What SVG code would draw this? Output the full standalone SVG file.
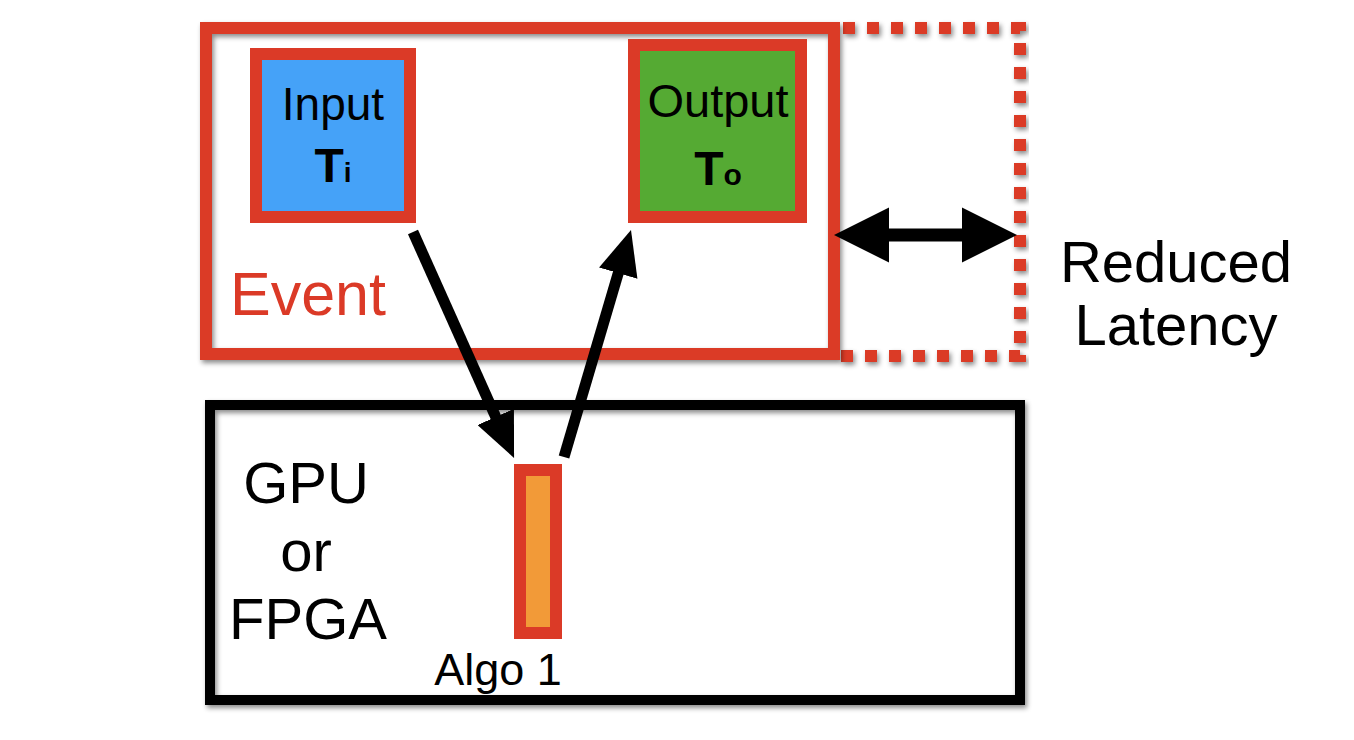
<svg xmlns="http://www.w3.org/2000/svg" width="1354" height="740" viewBox="0 0 1354 740">
<style>
.t{font-family:"Liberation Sans",Arial,sans-serif;fill:#000}
.b{font-weight:bold}
.red{stroke:#DB3A27}
</style>
<defs>
<filter id="sh" x="-5%" y="-5%" width="110%" height="115%">
<feDropShadow dx="2" dy="3" stdDeviation="2.5" flood-color="#000" flood-opacity="0.45"/>
</filter>
<marker id="ah" markerUnits="userSpaceOnUse" markerWidth="46" markerHeight="40" refX="15" refY="20" orient="auto" viewBox="0 0 46 40">
<path d="M0,0 L45,20 L0,40 z" fill="#000"/>
</marker>
</defs>
<rect width="1354" height="740" fill="#fff"/>
<g id="event">
<path d="M840,28 H1020 V356 H840" fill="none" stroke="#DB3A27" stroke-width="12" stroke-dasharray="12 12" stroke-dashoffset="-3" filter="url(#sh)"/>
<rect x="206" y="28" width="628" height="326" fill="none" stroke="#DB3A27" stroke-width="12" filter="url(#sh)"/>
<text class="t" x="230" y="315" font-size="61" style="fill:#DB3A27">Event</text>
</g>
<g id="input">
<rect x="256" y="54" width="154" height="163" fill="#45A2F8" stroke="#DB3A27" stroke-width="12"/>
<text class="t" x="333" y="120" font-size="46" text-anchor="middle">Input</text>
<text class="t b" x="333" y="182" font-size="48" text-anchor="middle">T<tspan font-size="28">i</tspan></text>
</g>
<g id="output">
<rect x="634" y="45" width="167" height="172" fill="#55AA33" stroke="#DB3A27" stroke-width="12"/>
<text class="t" x="718" y="117" font-size="47" text-anchor="middle">Output</text>
<text class="t b" x="718" y="185" font-size="48" text-anchor="middle">T<tspan font-size="30">o</tspan></text>
</g>
<g id="latency">
<text class="t" x="1176" y="282" font-size="58" text-anchor="middle">Reduced</text>
<text class="t" x="1176" y="345" font-size="58" text-anchor="middle">Latency</text>
</g>
<g id="gpu">
<rect x="210" y="405" width="810" height="295" fill="none" stroke="#000" stroke-width="10" filter="url(#sh)"/>
<text class="t" x="306" y="503" font-size="58" text-anchor="middle">GPU</text>
<text class="t" x="306" y="571" font-size="58" text-anchor="middle">or</text>
<text class="t" x="308" y="639" font-size="58" text-anchor="middle">FPGA</text>
</g>
<g id="algo">
<rect x="520" y="470" width="36" height="163" fill="#F29A38" stroke="#DB3A27" stroke-width="12"/>
<text class="t" x="498" y="685" font-size="45" text-anchor="middle">Algo 1</text>
</g>
<g id="connectors">
<line x1="413" y1="232" x2="501.8" y2="430.6" stroke="#000" stroke-width="11" marker-end="url(#ah)"/>
<line x1="564" y1="457" x2="622.5" y2="258.8" stroke="#000" stroke-width="11" marker-end="url(#ah)"/>
<polygon points="834,235 889,207.5 889,228.5 962,228.5 962,207.5 1017,235 962,262.5 962,241.5 889,241.5 889,262.5" fill="#000"/>
</g>
</svg>
